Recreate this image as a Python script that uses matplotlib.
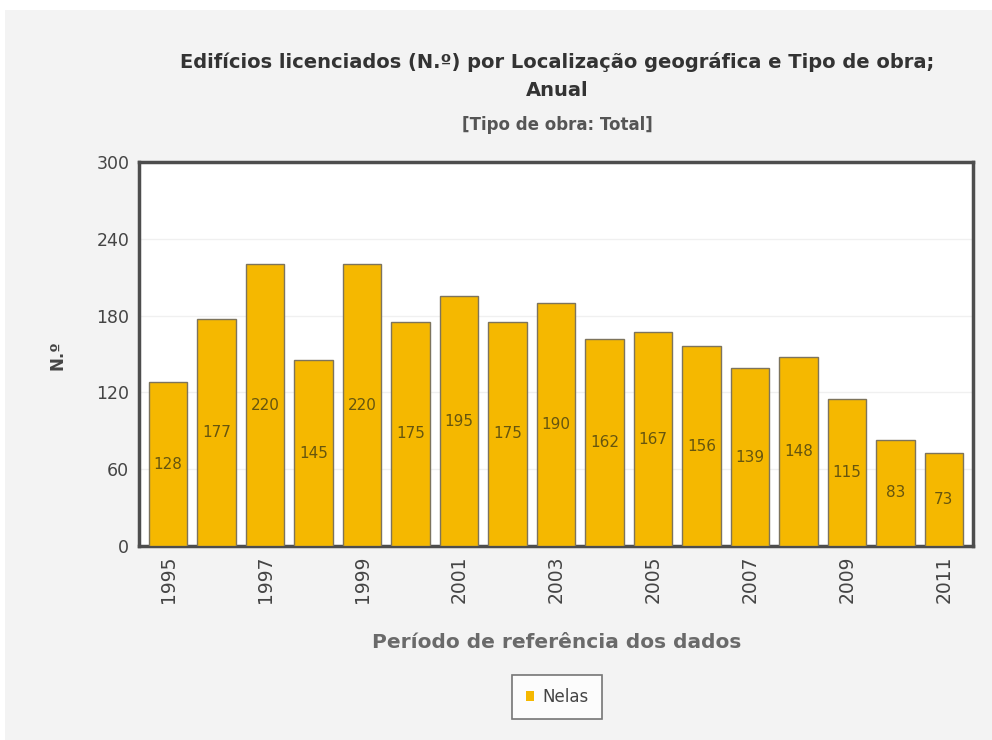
import numpy as np
import matplotlib
matplotlib.use('Agg')
import matplotlib.pyplot as plt
from matplotlib.patches import Rectangle

plt.rcParams['font.family'] = ['DejaVu Sans']

years = list(range(1995, 2012))
values = [128, 177, 220, 145, 220, 175, 195, 175, 190, 162, 167, 156, 139, 148, 115, 83, 73]
tick_years = [y for y in years if y % 2 == 1]

title_1 = 'Edifícios licenciados (N.º) por Localização geográfica e Tipo de obra;'
title_2 = 'Anual'
subtitle = '[Tipo de obra: Total]'
xlabel = 'Período de referência dos dados'
ylabel = 'N.º'
series_name = 'Nelas'

bar_color = '#f5b800'
edge_color = '#7d745c'
bg = '#f3f3f3'

fig = plt.figure(figsize=(9.92, 7.4), dpi=100, facecolor='white')
# grey panel behind everything (thin white strip at top and left)
fig.patches.append(Rectangle((5/992, 0), 1, 1 - 10/740, transform=fig.transFigure,
                             facecolor=bg, edgecolor='none', zorder=-10))

ax = fig.add_axes([139/992, 1 - 546/740, (973 - 139)/992, (546 - 162)/740])
ax.set_facecolor('white')

x = np.arange(len(years))
bars = ax.bar(x, values, width=0.8, color=bar_color, edgecolor=edge_color, linewidth=1, zorder=3,
              label=series_name)
for xi, v in zip(x, values):
    ax.text(xi, v / 2, str(v), ha='center', va='center', fontsize=11, color='#66550f', zorder=4)

ax.set_xlim(-0.6, len(years) - 0.4)
ax.set_ylim(0, 300)
ax.set_yticks([0, 60, 120, 180, 240, 300])
ax.yaxis.grid(True, color='#f0f0f0', linewidth=1, zorder=0)
ax.set_xticks([years.index(y) for y in tick_years])
ax.set_xticklabels([str(y) for y in tick_years], rotation=90)
ax.tick_params(axis='both', length=0, labelcolor='#444444')
ax.tick_params(axis='x', pad=7, labelsize=13.5)
ax.tick_params(axis='y', pad=7, labelsize=12.5)
for s in ax.spines.values():
    s.set_color('#4d4d4d')
    s.set_linewidth(2.5)

fig.text(557/992, 1 - 62/740, title_1, ha='center', va='center', fontsize=14, fontweight='bold',
         color='#333333')
fig.text(557/992, 1 - 90/740, title_2, ha='center', va='center', fontsize=14, fontweight='bold',
         color='#333333')
fig.text(557/992, 1 - 125/740, subtitle, ha='center', va='center', fontsize=12, fontweight='bold',
         color='#555555')
fig.text(557/992, 1 - 643/740, xlabel, ha='center', va='center', fontsize=14.5, fontweight='bold',
         color='#6a6a6a')
fig.text(58/992, 1 - 355/740, ylabel, ha='center', va='center', rotation=90, fontsize=12,
         fontweight='bold', color='#444444')

leg = fig.legend(handles=[bars], labels=[series_name], loc='center', bbox_to_anchor=(557/992, 1 - 697/740),
                 frameon=True, fancybox=False, fontsize=12, handlelength=0.5, handleheight=0.5,
                 handletextpad=0.5, borderpad=0.8, labelcolor='#444444')
leg.get_frame().set_edgecolor('#555555')
leg.get_frame().set_linewidth(1.2)
for h in leg.legend_handles:
    h.set_edgecolor('none')

fig.savefig('out.png', dpi=100, facecolor=fig.get_facecolor())
